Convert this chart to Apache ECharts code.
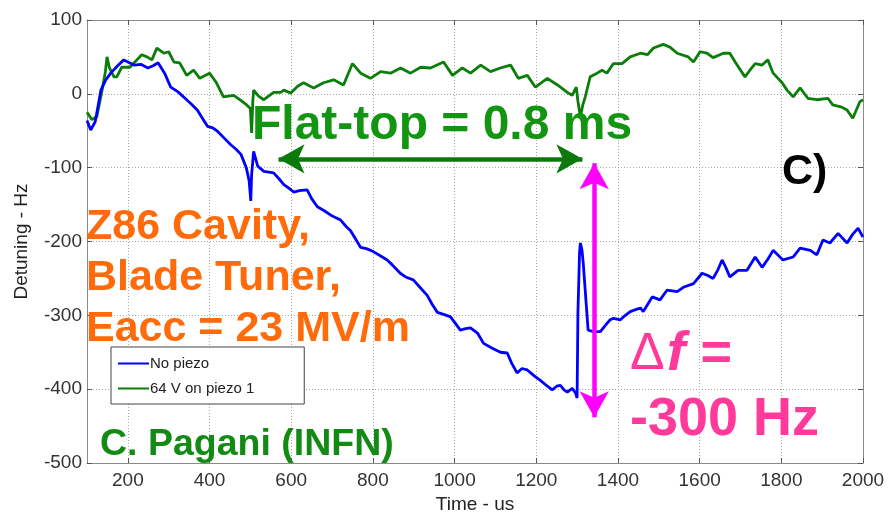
<!DOCTYPE html>
<html>
<head>
<meta charset="utf-8">
<style>
html,body{margin:0;padding:0;background:#fff;}
#chart{width:888px;height:512px;}
</style>
<script src="https://cdn.jsdelivr.net/npm/echarts@6/dist/echarts.min.js"></script>
</head>
<body>
<div id="chart"></div>
<script>
// ---- data ----
var xTicks = [200, 400, 600, 800, 1000, 1200, 1400, 1600, 1800, 2000];
var yTicks = [-500, -400, -300, -200, -100, 0, 100];
var seriesNames = ['No piezo', '64 V on piezo 1'];

var noPiezo = [[100,-36],[109,-49],[120,-38],[134,5],[145,18],[158,28],[175,38],[190,46],[200,43],[215,39],[232,40],[249,35],[262,38],[274,42],[290,28],[305,9],[322,3],[338,-5],[354,-13],[370,-22],[386,-36],[395,-44],[408,-46],[420,-51],[436,-60],[452,-69],[465,-75],[477,-82],[490,-100],[497,-118],[501,-145],[503,-110],[508,-78],[518,-98],[533,-105],[545,-106],[557,-107],[570,-115],[582,-123],[595,-128],[606,-133],[620,-131],[639,-130],[650,-142],[664,-153],[680,-158],[696,-164],[710,-168],[721,-171],[735,-180],[745,-185],[758,-197],[770,-208],[786,-210],[802,-214],[820,-220],[835,-225],[848,-232],[860,-239],[867,-243],[880,-248],[899,-252],[915,-262],[933,-273],[945,-285],[958,-296],[975,-299],[990,-302],[1002,-311],[1014,-320],[1027,-318],[1039,-317],[1056,-324],[1071,-338],[1090,-344],[1112,-350],[1129,-351],[1140,-365],[1153,-378],[1165,-372],[1178,-374],[1195,-382],[1210,-388],[1225,-395],[1239,-401],[1250,-396],[1259,-395],[1268,-401],[1276,-404],[1288,-399],[1296,-405],[1300,-412],[1302,-297],[1306,-215],[1308,-202],[1312,-212],[1315,-229],[1321,-275],[1327,-320],[1340,-322],[1357,-322],[1370,-313],[1381,-306],[1389,-304],[1406,-306],[1418,-300],[1430,-295],[1445,-292],[1455,-290],[1462,-295],[1473,-285],[1484,-275],[1503,-279],[1520,-266],[1545,-268],[1560,-262],[1585,-257],[1606,-243],[1620,-246],[1633,-250],[1645,-238],[1655,-225],[1664,-235],[1674,-248],[1694,-239],[1716,-239],[1736,-221],[1753,-235],[1767,-224],[1780,-212],[1804,-225],[1829,-221],[1846,-209],[1871,-212],[1887,-218],[1902,-198],[1919,-202],[1939,-189],[1961,-202],[1975,-190],[1988,-182],[2000,-194]];

var piezo64V = [[100,-25],[112,-35],[124,-31],[137,5],[145,30],[149,50],[155,35],[166,23],[173,23],[185,36],[205,36],[217,43],[234,53],[247,50],[259,46],[271,62],[288,55],[300,57],[313,43],[327,42],[344,25],[361,32],[376,21],[400,28],[417,15],[434,-4],[459,-2],[474,-8],[491,-15],[500,-20],[503,-53],[506,-10],[508,5],[520,-3],[533,-8],[557,2],[574,2],[582,5],[599,1],[615,10],[630,15],[655,8],[679,15],[704,19],[728,12],[750,41],[770,28],[794,21],[819,30],[843,28],[868,35],[892,28],[917,36],[941,35],[973,43],[995,25],[1019,35],[1039,28],[1064,39],[1088,30],[1112,35],[1137,39],[1156,21],[1178,25],[1198,9],[1227,21],[1252,12],[1276,2],[1288,-2],[1298,9],[1302,-10],[1308,-31],[1314,-15],[1320,-4],[1332,23],[1349,28],[1361,32],[1373,28],[1389,41],[1410,41],[1430,50],[1455,55],[1472,53],[1487,62],[1511,67],[1528,63],[1545,55],[1572,50],[1585,43],[1601,57],[1618,55],[1633,49],[1658,55],[1674,55],[1687,43],[1711,23],[1723,32],[1736,41],[1753,39],[1767,46],[1780,28],[1802,15],[1814,5],[1829,-4],[1846,8],[1865,-6],[1887,-8],[1914,-6],[1926,-15],[1948,-18],[1961,-22],[1975,-33],[1992,-11],[2000,-8]];

// annotation arrows (data coordinates)
var flatTopArrow = [[569,-88],[1313,-88]];
var deltaFArrow = [[1342,-94],[1342,-438]];

// ---- chart ----
var chart = echarts.init(document.getElementById('chart'), null, {renderer:'canvas'});
var FONT = '"Liberation Sans", Arial, Helvetica, sans-serif';
var xMin = 100, xMax = xTicks[xTicks.length-1];
var yMin = yTicks[0], yMax = yTicks[yTicks.length-1];

function boxAxis(pos, isX) {
  return {
    type:'value', position:pos,
    min: isX ? xMin : yMin, max: isX ? xMax : yMax,
    interval: isX ? undefined : 100,
    axisLine:{show:true, onZero:false, lineStyle:{color:'#8a8a8a', width:1}},
    axisTick:{show:true, inside:true, length:5, lineStyle:{color:'#555'},
      customValues: isX ? xTicks : yTicks},
    axisLabel:{show:false},
    splitLine:{show:false}
  };
}

var option = {
  backgroundColor:'#ffffff',
  animation:false,
  textStyle:{fontFamily:FONT},
  grid:{left:87, top:20, right:25, bottom:49, containLabel:false, outerBoundsMode:'none'},
  legend:{
    data: seriesNames,
    orient:'vertical', left:111, top:347,
    backgroundColor:'#fff', borderColor:'#444', borderWidth:1, borderRadius:0,
    padding:[9, 50, 8, 7],
    itemGap:10,
    icon:'rect', itemWidth:31, itemHeight:2,
    textStyle:{fontFamily:FONT, fontSize:15, color:'#222', padding:[0,0,0,-4]},
    selectedMode:false
  },
  xAxis:[{
    type:'value', min:xMin, max:xMax,
    name:'Time - us', nameLocation:'middle', nameGap:29,
    nameTextStyle:{fontFamily:FONT, fontSize:19, color:'#222'},
    axisLine:{show:true, onZero:false, lineStyle:{color:'#8a8a8a', width:1}},
    axisTick:{show:true, inside:true, length:5, lineStyle:{color:'#555'}, customValues:xTicks},
    axisLabel:{fontFamily:FONT, fontSize:19, color:'#333', margin:8, customValues:xTicks,
      formatter:function(v){ return String(v); }},
    splitLine:{show:true, lineStyle:{color:'#a8a8a8', width:1, type:[1,2]}}
  }, boxAxis('top', true)],
  yAxis:[{
    type:'value', min:yMin, max:yMax, interval:100,
    name:'Detuning - Hz', nameLocation:'middle', nameGap:56, nameRotate:90,
    nameTextStyle:{fontFamily:FONT, fontSize:19, color:'#222'},
    axisLine:{show:true, onZero:false, lineStyle:{color:'#8a8a8a', width:1}},
    axisTick:{show:true, inside:true, length:5, lineStyle:{color:'#555'}},
    axisLabel:{fontFamily:FONT, fontSize:19, color:'#333', margin:5,
      formatter:function(v){ return String(v); }},
    splitLine:{show:true, lineStyle:{color:'#a8a8a8', width:1, type:[1,2]}}
  }, boxAxis('right', false)],
  series:[{
    name: seriesNames[0], type:'line', data: noPiezo,
    xAxisIndex:0, yAxisIndex:0,
    symbol:'none', smooth:false,
    lineStyle:{color:'#0000ff', width:2.8},
    itemStyle:{color:'#0000ff'},
    z:3
  },{
    name: seriesNames[1], type:'line', data: piezo64V,
    xAxisIndex:0, yAxisIndex:0,
    symbol:'none', smooth:false,
    lineStyle:{color:'#0a7d0a', width:2.8},
    itemStyle:{color:'#0a7d0a'},
    z:2,
    markLine:{
      silent:true, animation:false,
      label:{show:false},
      emphasis:{disabled:true},
      symbol:['arrow','arrow'], symbolSize:[22,26],
      data:[
        [{coord:flatTopArrow[0], lineStyle:{color:'#0b7a0b', width:4.5, type:'solid'}, itemStyle:{color:'#0b7a0b'}},
         {coord:flatTopArrow[1]}],
        [{coord:deltaFArrow[0], lineStyle:{color:'#ff00ff', width:4.5, type:'solid'}, itemStyle:{color:'#ff00ff'}},
         {coord:deltaFArrow[1]}]
      ]
    }
  }],
  graphic:[
    {type:'text', z:10, style:{x:252, y:126, text:'Flat-top = 0.8 ms', fill:'#129612',
      font:'bold 48px '+FONT, verticalAlign:'middle', align:'left'}},
    {type:'text', z:10, style:{x:782, y:172, text:'C)', fill:'#000',
      font:'bold 43px '+FONT, verticalAlign:'middle', align:'left'}},
    {type:'text', z:10, style:{x:86, y:227, text:'Z86 Cavity,', fill:'#ff6a0a',
      font:'bold 43px '+FONT, verticalAlign:'middle', align:'left'}},
    {type:'text', z:10, style:{x:86, y:278, text:'Blade Tuner,', fill:'#ff6a0a',
      font:'bold 43px '+FONT, verticalAlign:'middle', align:'left'}},
    {type:'text', z:10, style:{x:86, y:329, text:'Eacc = 23 MV/m', fill:'#ff6a0a',
      font:'bold 43px '+FONT, verticalAlign:'middle', align:'left'}},
    {type:'text', z:10, style:{x:100, y:445, text:'C. Pagani (INFN)', fill:'#138a13',
      font:'bold 37.5px '+FONT, verticalAlign:'middle', align:'left'}},
    {type:'text', z:10, style:{x:630, y:355, text:'{d|\u0394}{f|f}{e| =}', verticalAlign:'middle', align:'left',
      rich:{
        d:{fontFamily:FONT, fontSize:52, fontWeight:'normal', fill:'#ff3a9a', color:'#ff3a9a'},
        f:{fontFamily:FONT, fontSize:56, fontWeight:'bold', fontStyle:'italic', fill:'#ff3a9a', color:'#ff3a9a', padding:[0,0,0,2]},
        e:{fontFamily:FONT, fontSize:54, fontWeight:'bold', fill:'#ff3a9a', color:'#ff3a9a'}
      }}},
    {type:'text', z:10, style:{x:630, y:420, text:'-300 Hz', fill:'#ff3a9a',
      font:'bold 54px '+FONT, verticalAlign:'middle', align:'left'}}
  ]
};
chart.setOption(option);
</script>
</body>
</html>
